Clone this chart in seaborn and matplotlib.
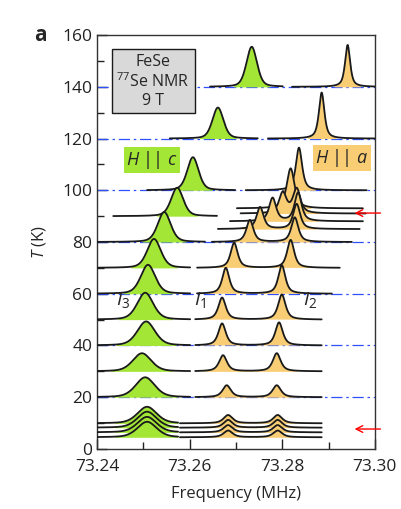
import numpy as np
import pandas as pd
import matplotlib
matplotlib.use("Agg")
import matplotlib.pyplot as plt
from matplotlib.ticker import MultipleLocator
import seaborn as sns

# 77Se NMR spectra of FeSe
# frequencies in MHz, heights in K (vertical offset units)

# H || c (green)
c_temps = [140, 120, 100, 90, 80, 70, 60, 50, 40, 30, 20, 9.9, 8.2, 6.4, 4.5]
c_center = [73.2734, 73.2661, 73.2607, 73.2573, 73.2545, 73.2523, 73.2510, 73.2504,
            73.2506, 73.2497, 73.2504, 73.2508, 73.2508, 73.2508, 73.2508]
c_height = [15.5, 12.0, 12.8, 11.0, 11.6, 11.2, 11.2, 10.4, 9.3, 7.0, 7.7, 6.4, 6.2, 6.0, 6.0]
c_fwhm = [0.0027, 0.0028, 0.0029, 0.0031, 0.0033, 0.0035, 0.0037, 0.0041,
          0.0045, 0.0047, 0.0049, 0.0049, 0.0049, 0.0049, 0.0049]
c_start = [73.2644, 73.2557, 73.2508, 73.2435, 73.2400, 73.2400, 73.2400, 73.2400,
           73.2400, 73.2400, 73.2400, 73.2400, 73.2400, 73.2400, 73.2400]
c_stop = [73.2801, 73.2747, 73.2698, 73.2659, 73.2633, 73.2601, 73.2601, 73.2601,
          73.2601, 73.2601, 73.2601, 73.2575, 73.2575, 73.2575, 73.2575]

# H || a (orange), two lines I1 / I2 below Ts
a_temps = [140, 120, 100, 93, 91, 88, 85, 80, 70, 60, 50, 40, 30, 20, 9.9, 8.2, 6.4, 4.5]
a_center1 = [73.2941, 73.2885, 73.2836, 73.2818, 73.2801, 73.2779, 73.2752, 73.2730, 73.2696,
             73.2678, 73.2670, 73.2670, 73.2672, 73.2680, 73.2683, 73.2683, 73.2683, 73.2683]
a_height1 = [16.2, 17.8, 16.5, 15.5, 8.0, 9.0, 8.5, 8.5, 9.7, 10.0, 8.5, 8.5, 6.2, 4.6,
             3.2, 3.0, 2.8, 2.6]
a_center2 = [73.2941, 73.2885, 73.2836, 73.2818, 73.2831, 73.2834, 73.2831, 73.2827, 73.2818,
             73.2799, 73.2799, 73.2793, 73.2788, 73.2788, 73.2790, 73.2790, 73.2790, 73.2790]
a_height2 = [0, 0, 0, 0, 9.5, 11.0, 9.7, 9.5, 10.8, 11.0, 9.7, 8.9, 7.0, 4.6,
             3.2, 3.0, 2.8, 2.6]
a_fwhm = [0.0013, 0.0014, 0.0016, 0.0020, 0.0019, 0.0018, 0.0018, 0.0018, 0.0018,
          0.0018, 0.0019, 0.0019, 0.0020, 0.0021, 0.0023, 0.0023, 0.0023, 0.0023]
a_start = [73.2821, 73.2769, 73.2721, 73.2702, 73.2710, 73.2687, 73.2661, 73.2648, 73.2616,
           73.2616, 73.2612, 73.2612, 73.2612, 73.2612, 73.2579, 73.2579, 73.2579, 73.2579]
a_stop = [73.3000, 73.3000, 73.2982, 73.2974, 73.2980, 73.2974, 73.2967, 73.2950, 73.2924,
          73.2907, 73.2885, 73.2885, 73.2885, 73.2885, 73.2885, 73.2885, 73.2885, 73.2885]

blue_levels = [20, 40, 60, 80, 100, 120, 140]
arrow_temps = [91.2, 7.7]

green = "#a3e635"
orange = "#f8cd74"


def peak(f, c, h, w, eta):
    x = (f - c) / (w / 2)
    return h * (eta / (1 + x ** 2) + (1 - eta) * np.exp(-np.log(2) * x ** 2))


sns.set_theme(style="ticks")
plt.rcParams['font.family'] = ['Open Sans', 'DejaVu Sans']
plt.rcParams['mathtext.fontset'] = 'custom'
plt.rcParams['mathtext.rm'] = 'Open Sans'
plt.rcParams['mathtext.it'] = 'Open Sans:italic'

fig, ax = plt.subplots(figsize=(4.01, 5.09), dpi=100)
fig.subplots_adjust(left=0.242, right=0.935, top=0.931, bottom=0.118)

for T in blue_levels:
    ax.axhline(T, color="#2f50ff", lw=0.9, ls=(0, (9, 3, 2, 3)), zorder=1)

# green spectra
for i, T in enumerate(c_temps):
    f = np.linspace(c_start[i], c_stop[i], 300)
    y = peak(f, c_center[i], c_height[i], c_fwhm[i], 0.35)
    z = 3 + (160 - T) / 10
    ax.fill_between(f, T, T + y, where=y > 0.04 * c_height[i], interpolate=True,
                    color=green, lw=0, zorder=z)
    df = pd.DataFrame({"f": f, "T": T + y})
    sns.lineplot(data=df, x="f", y="T", color="k", lw=1.3, ax=ax, zorder=z + 0.01,
                 estimator=None, sort=False)

# orange spectra
for i, T in enumerate(a_temps):
    f = np.linspace(a_start[i], a_stop[i], 400)
    y1 = peak(f, a_center1[i], a_height1[i], a_fwhm[i], 0.7)
    y2 = peak(f, a_center2[i], a_height2[i], a_fwhm[i], 0.7)
    y = y1 + y2
    hmax = max(a_height1[i], a_height2[i])
    z = 3 + (160 - T) / 10
    ax.fill_between(f, T, T + y, where=y > 0.035 * hmax, interpolate=True,
                    color=orange, lw=0, zorder=z)
    df = pd.DataFrame({"f": f, "T": T + y})
    sns.lineplot(data=df, x="f", y="T", color="k", lw=1.3, ax=ax, zorder=z + 0.01,
                 estimator=None, sort=False)

for T in arrow_temps:
    ax.annotate("", xy=(73.2950, T), xytext=(73.3018, T), annotation_clip=False,
                arrowprops=dict(arrowstyle="->", color="red", lw=1, mutation_scale=12),
                zorder=40)

ax.text(73.2521, 142.2, "FeSe\n$^{77}$Se NMR\n9 T", ha="center", va="center",
        fontsize=11.5, linespacing=1.15, zorder=50,
        bbox=dict(boxstyle="square,pad=0.3", fc="#d9d9d9", ec="k", lw=1))
ax.text(73.2519, 111.7, r"$H$ || $c$", ha="center", va="center", fontsize=13, zorder=50,
        bbox=dict(boxstyle="square,pad=0.12", fc=green, ec="none"))
ax.text(73.2929, 112.5, r"$H$ || $a$", ha="center", va="center", fontsize=13, zorder=50,
        bbox=dict(boxstyle="square,pad=0.12", fc=orange, ec="none"))
ax.text(73.2456, 57.6, r"$I_3$", ha="center", va="center", fontsize=14, zorder=50)
ax.text(73.2622, 57.6, r"$I_1$", ha="center", va="center", fontsize=14, zorder=50)
ax.text(73.2860, 57.6, r"$I_2$", ha="center", va="center", fontsize=14, zorder=50)

ax.set_xlim(73.24, 73.30)
ax.set_ylim(0, 160)
ax.xaxis.set_major_locator(MultipleLocator(0.02))
ax.xaxis.set_minor_locator(MultipleLocator(0.01))
ax.yaxis.set_major_locator(MultipleLocator(20))
ax.yaxis.set_minor_locator(MultipleLocator(10))
ax.set_xticks([73.24, 73.26, 73.28, 73.30])
ax.set_xticklabels(["73.24", "73.26", "73.28", "73.30"])
ax.tick_params(which="both", direction="in", colors="#222222", labelsize=12.5)
ax.tick_params(which="major", length=7, width=1)
ax.tick_params(which="minor", length=5, width=1)
ax.tick_params(axis="x", pad=7)
for s in ax.spines.values():
    s.set_color("#333333")
    s.set_linewidth(1)

ax.set_xlabel("Frequency (MHz)", fontsize=12, labelpad=8)
ax.set_ylabel(r"$T$ (K)", fontsize=12, labelpad=10)
fig.text(0.1, 0.93, "a", fontsize=15, fontweight="bold", ha="center", va="center")

plt.savefig("out.png", dpi=100)
